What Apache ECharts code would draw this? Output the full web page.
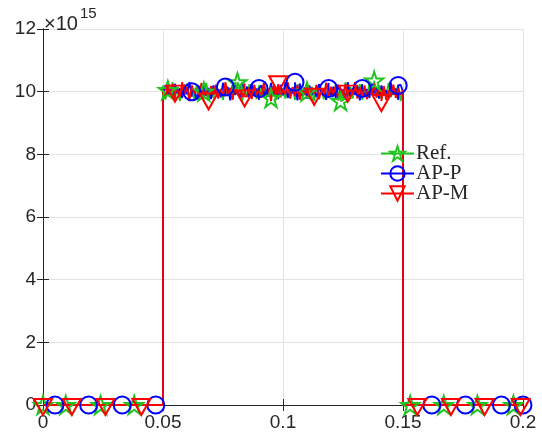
<!DOCTYPE html>
<html lang="en">
<head>
    <meta charset="UTF-8">
    <title>Ref / AP-P / AP-M</title>
    <script src="https://cdn.jsdelivr.net/npm/echarts@6/dist/echarts.min.js"></script>
</head>
<body style="margin:0">
    <div id="main" style="width: 542px;height:440px;"></div>
    <script type="text/javascript">
        // values are in units of 10^15
        // noisy plateau, sampled on x = 0.05, 0.051, ..., 0.15
        let plateauStart = 0.05;
        let plateauStep = 0.001;
        let refMid = [10.2, 9.75, 10.1, 9.9, 10.3, 9.8, 10.15, 9.7, 10.05, 9.95,
            10.25, 9.82, 10.12, 9.76, 10.22, 9.88, 10.06, 9.72, 10.28, 9.9,
            10.14, 9.8, 10.2, 9.94, 10.08, 9.74, 10.26, 9.86, 10.1, 9.78,
            10.3, 9.92, 10.16, 9.7, 10.04, 9.84, 10.24, 9.9, 10.12, 9.76,
            10.2, 9.88, 10.28, 9.8, 10.06, 9.96, 10.18, 9.72, 10.22, 9.86,
            10.1, 9.78, 10.3, 9.92, 10.14, 9.74, 10.24, 9.84, 10.04, 9.9,
            10.26, 9.8, 10.16, 9.7, 10.2, 9.88, 10.08, 9.76, 10.28, 9.94,
            10.12, 9.82, 10.22, 9.9, 10.06, 9.72, 10.3, 9.86, 10.14, 9.78,
            10.18, 9.92, 10.24, 9.74, 10.1, 9.84, 10.26, 9.9, 10.04, 9.8,
            10.2, 9.76, 10.16, 9.88, 10.28, 9.82, 10.08, 9.94, 10.22, 9.7,
            10.05];
        let appMid = [9.85, 10.2, 9.9, 10.15, 9.78, 10.25, 9.95, 10.1, 9.8, 10.22,
            9.92, 10.3, 9.84, 10.06, 9.74, 10.18, 9.9, 10.26, 9.86, 10.12,
            9.76, 10.2, 9.94, 10.08, 9.82, 10.28, 9.88, 10.14, 9.72, 10.22,
            9.9, 10.04, 9.8, 10.3, 9.96, 10.16, 9.78, 10.24, 9.86, 10.1,
            9.74, 10.2, 9.92, 10.06, 9.84, 10.28, 9.9, 10.12, 9.76, 10.22,
            9.88, 10.3, 9.8, 10.08, 9.94, 10.18, 9.72, 10.26, 9.86, 10.14,
            9.78, 10.2, 9.9, 10.04, 9.82, 10.24, 9.96, 10.1, 9.74, 10.28,
            9.88, 10.16, 9.8, 10.22, 9.92, 10.06, 9.76, 10.3, 9.84, 10.12,
            9.9, 10.18, 9.72, 10.24, 9.86, 10.08, 9.8, 10.26, 9.94, 10.14,
            9.78, 10.2, 9.88, 10.04, 9.82, 10.28, 9.9, 10.1, 9.74, 10.22,
            10.0];
        let apmMid = [10.1, 9.8, 10.2, 9.9, 10.25, 9.75, 10.05, 9.85, 10.3, 9.9,
            10.15, 9.7, 10.2, 9.95, 10.1, 9.8, 10.28, 9.88, 10.05, 9.72,
            10.18, 9.92, 10.22, 9.78, 10.08, 9.86, 10.3, 9.9, 10.12, 9.74,
            10.2, 9.96, 10.06, 9.82, 10.26, 9.84, 10.14, 9.76, 10.22, 9.9,
            10.04, 9.8, 10.28, 9.94, 10.1, 9.7, 10.18, 9.88, 10.24, 9.82,
            10.08, 9.92, 10.3, 9.78, 10.14, 9.86, 10.2, 9.74, 10.06, 9.9,
            10.26, 9.8, 10.12, 9.94, 10.22, 9.76, 10.04, 9.86, 10.28, 9.82,
            10.16, 9.9, 10.2, 9.72, 10.1, 9.88, 10.24, 9.8, 10.06, 9.92,
            10.3, 9.78, 10.14, 9.84, 10.2, 9.76, 10.08, 9.9, 10.26, 9.82,
            10.12, 9.94, 10.18, 9.74, 10.04, 9.86, 10.22, 9.8, 10.1, 9.9,
            10.05];

        // marker positions
        let refMarkX = [0, 0.0095, 0.024, 0.038, 0.052, 0.067, 0.081, 0.095, 0.110, 0.124, 0.138, 0.153, 0.167, 0.181, 0.196];
        let refMarkY = [0, 0, 0, 0, 10.05, 10.0, 10.3, 9.8, 10.0, 9.7, 10.35, 0, 0, 0, 0];
        let appMarkX = [0.005, 0.019, 0.033, 0.047, 0.062, 0.076, 0.090, 0.105, 0.119, 0.133, 0.148, 0.162, 0.176, 0.191, 0.2];
        let appMarkY = [0, 0, 0, 0, 10.0, 10.15, 10.1, 10.3, 10.1, 10.1, 10.2, 0, 0, 0, 0];
        let apmMarkX = [0, 0.012, 0.026, 0.041, 0.055, 0.069, 0.084, 0.098, 0.113, 0.127, 0.141, 0.156, 0.170, 0.184, 0.199];
        let apmMarkY = [0, 0, 0, 0, 10.0, 9.75, 9.85, 10.3, 9.9, 10.0, 9.7, 0, 0, 0, 0];

        let xTicks = [0, 0.05, 0.1, 0.15, 0.2];
        let yTicks = [0, 2, 4, 6, 8, 10, 12];

        function buildLine(mid, markX, markY) {
            let pts = [];
            pts.push({ value: [0, 0], symbol: 'none' });
            pts.push({ value: [plateauStart, 0], symbol: 'none' });
            for (let i = 0; i < mid.length; i++) {
                pts.push({ value: [+(plateauStart + i * plateauStep).toFixed(4), mid[i]], symbol: 'none' });
            }
            pts.push({ value: [0.15, 0], symbol: 'none' });
            pts.push({ value: [0.2, 0], symbol: 'none' });
            for (let i = 0; i < markX.length; i++) {
                pts.push({ value: [markX[i], markY[i]] });
            }
            // stable sort keeps the vertical edges in order
            pts.sort(function (a, b) { return a.value[0] - b.value[0]; });
            return pts;
        }

        let star = 'path://M0,-1L0.2245,-0.309L0.951,-0.309L0.363,0.118L0.588,0.809L0,0.382L-0.588,0.809L-0.363,0.118L-0.951,-0.309L-0.2245,-0.309Z';
        let downTri = 'path://M-1,-0.6L1,-0.6L0,1.1Z';

        let axisColor = '#262626';
        let myChart = echarts.init(document.getElementById('main'));
        let option = {
            animation: false,
            title: {
                text: '{a|×10}{b|15}',
                left: 39,
                top: 0,
                textStyle: {
                    fontWeight: 'normal',
                    rich: {
                        a: { fontFamily: 'Liberation Sans', fontWeight: 'normal', fontSize: 20, color: axisColor, padding: [9, 0, 0, 0] },
                        b: { fontFamily: 'Liberation Sans', fontWeight: 'normal', fontSize: 15, color: axisColor, padding: [0, 0, 12, 2] }
                    }
                }
            },
            grid: { left: 43, right: 19, top: 29, bottom: 35 },
            legend: {
                orient: 'vertical',
                left: 380,
                top: 143,
                padding: 0,
                itemWidth: 33,
                itemHeight: 18,
                itemGap: -1,
                textStyle: { fontFamily: 'Liberation Serif', fontSize: 21, color: axisColor, padding: [0, 0, 0, -3] },
                data: ['Ref.', 'AP-P', 'AP-M']
            },
            xAxis: [{
                type: 'value', min: 0, max: 0.2, interval: 0.05, position: 'bottom',
                axisLine: { lineStyle: { color: axisColor, width: 1 } },
                axisTick: { show: true, inside: true, length: 6, lineStyle: { color: axisColor } },
                axisLabel: {
                    fontFamily: 'Liberation Sans', fontSize: 19, color: axisColor, margin: 8,
                    formatter: function (v) { return xTicks.indexOf(+v.toFixed(2)) >= 0 ? String(+v.toFixed(2)) : ''; }
                },
                splitLine: { show: true, lineStyle: { color: '#e3e3e3' } }
            }, {
                type: 'value', min: 0, max: 0.2, interval: 0.05, position: 'top',
                axisLine: { lineStyle: { color: axisColor, width: 1 } },
                axisTick: { show: true, inside: true, length: 6, lineStyle: { color: axisColor } },
                axisLabel: { show: false },
                splitLine: { show: false }
            }],
            yAxis: [{
                type: 'value', min: 0, max: 12, interval: 2, position: 'left',
                axisLine: { show: true, lineStyle: { color: axisColor, width: 1 } },
                axisTick: { show: true, inside: true, length: 6, lineStyle: { color: axisColor } },
                axisLabel: {
                    fontFamily: 'Liberation Sans', fontSize: 19, color: axisColor, margin: 7,
                    formatter: function (v) { return yTicks.indexOf(v) >= 0 ? String(v) : ''; }
                },
                splitLine: { show: true, lineStyle: { color: '#e3e3e3' } }
            }, {
                type: 'value', min: 0, max: 12, interval: 2, position: 'right',
                axisLine: { show: true, lineStyle: { color: axisColor, width: 1 } },
                axisTick: { show: true, inside: true, length: 6, lineStyle: { color: axisColor } },
                axisLabel: { show: false },
                splitLine: { show: false }
            }],
            series: [
                {
                    name: 'Ref.',
                    type: 'line',
                    clip: false,
                    symbol: star,
                    symbolSize: 18,
                    lineStyle: { color: '#1fc41f', width: 1.8 },
                    itemStyle: { color: 'rgba(0,0,0,0)', borderColor: '#1fc41f', borderWidth: 2 },
                    data: buildLine(refMid, refMarkX, refMarkY)
                },
                {
                    name: 'AP-P',
                    type: 'line',
                    clip: false,
                    symbol: 'circle',
                    symbolSize: 17,
                    lineStyle: { color: '#0000ff', width: 1.8 },
                    itemStyle: { color: 'rgba(0,0,0,0)', borderColor: '#0000ff', borderWidth: 2 },
                    data: buildLine(appMid, appMarkX, appMarkY)
                },
                {
                    name: 'AP-M',
                    type: 'line',
                    clip: false,
                    symbol: downTri,
                    symbolSize: [18, 16],
                    symbolKeepAspect: false,
                    symbolOffset: [0, 2],
                    lineStyle: { color: '#ff0000', width: 1.8 },
                    itemStyle: { color: 'rgba(0,0,0,0)', borderColor: '#ff0000', borderWidth: 2 },
                    data: buildLine(apmMid, apmMarkX, apmMarkY)
                }
            ]
        };
        myChart.setOption(option);
    </script>
</body>
</html>
